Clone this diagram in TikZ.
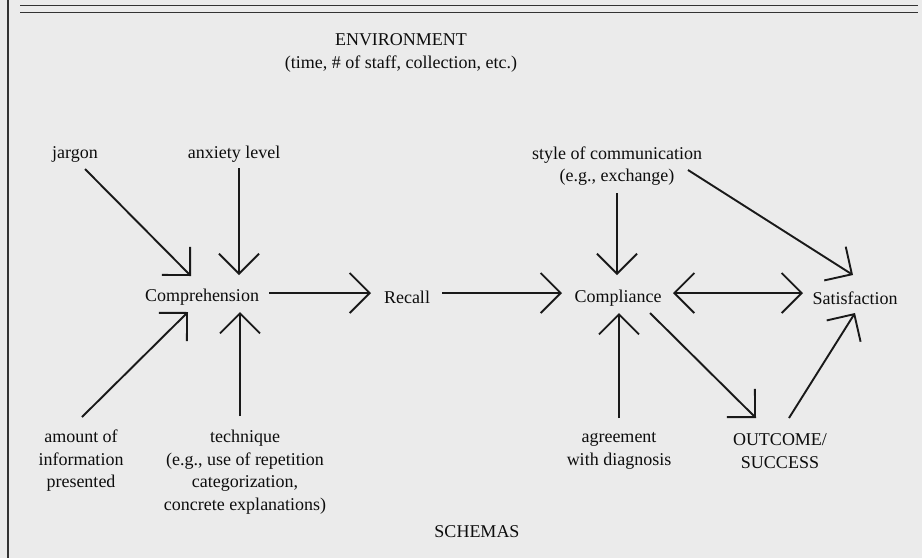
\documentclass[tikz,border=0pt]{standalone}
\usepackage{fontspec}
\setmainfont{Liberation Serif}
\usepackage{tikz}
\usetikzlibrary{arrows.meta,positioning}

\begin{document}
\begin{tikzpicture}[x=1pt,y=-1pt,->,>={Straight Barb[length=20pt,width=40pt]},line width=1.9pt,
  factor/.style={inner sep=0pt,align=center,text=black!95,font=\fontsize{18}{22.5}\selectfont}]

    % Page and frame
	\fill[black!8] (0,0) rectangle (922,558);
	\useasboundingbox (0,0) rectangle (922,558);
	\draw[-,line width=1.5pt,black!80] (8,0) -- (8,558);
	\draw[-,line width=1.6pt,black!80] (20,5.5) -- (918,5.5);
	\draw[-,line width=1.6pt,black!80] (20,12.5) -- (918,12.5);

    % The factors
	\node [factor] at (401,53) (env) {ENVIRONMENT\\(time, \# of staff, collection, etc.)};
	\node [factor] at (75,154) (jargon) {jargon};
	\node [factor] at (234,154) (anx) {anxiety level};
	\node [factor] at (202,297) (comp) {Comprehension};
	\node [factor] at (407,297) (recall) {Recall};
	\node [factor] at (617,166) (style) {style of communication\\(e.g., exchange)};
	\node [factor] at (618,298) (compl) {Compliance};
	\node [factor] at (855,298) (satis) {Satisfaction};
	\node [factor] at (81,461) (amount) {amount of\\information\\presented};
	\node [factor] at (245,472) (tech) {technique\\(e.g., use of repetition\\categorization,\\concrete explanations)};
	\node [factor] at (619,451) (agree) {agreement\\with diagnosis};
	\node [factor] at (780,451) (outcome) {OUTCOME/\\SUCCESS};
	\node [factor] at (477,532) (schemas) {SCHEMAS};

    % Influences
	\path[->,black!90]
	([shift={(10,15)}]jargon.center) edge ([shift={(-11,-21)}]comp.center)
	([shift={(5,14)}]anx.center) edge ([shift={(37,-22)}]comp.center)
	([shift={(1,-44)}]amount.center) edge ([shift={(-14,15)}]comp.center)
	([shift={(-5,-56)}]tech.center) edge ([shift={(38,15)}]comp.center)
	([shift={(67,-4)}]comp.center) edge ([shift={(-36,-4)}]recall.center)
	([shift={(35,-4)}]recall.center) edge ([shift={(-56,-5)}]compl.center)
	([shift={(0,27)}]style.center) edge ([shift={(-1,-23)}]compl.center)
	([shift={(71,4)}]style.center) edge ([shift={(-2,-23)}]satis.center)
	([shift={(0,-33)}]agree.center) edge ([shift={(1,15)}]compl.center)
	([shift={(32,15)}]compl.center) edge ([shift={(-24,-33)}]outcome.center)
	([shift={(9,-33)}]outcome.center) edge ([shift={(0,15)}]satis.center)
	;

	\path[<->,black!90]
	([shift={(55,-5)}]compl.center) edge ([shift={(-52,-5)}]satis.center)
	;

\end{tikzpicture}
\end{document}
